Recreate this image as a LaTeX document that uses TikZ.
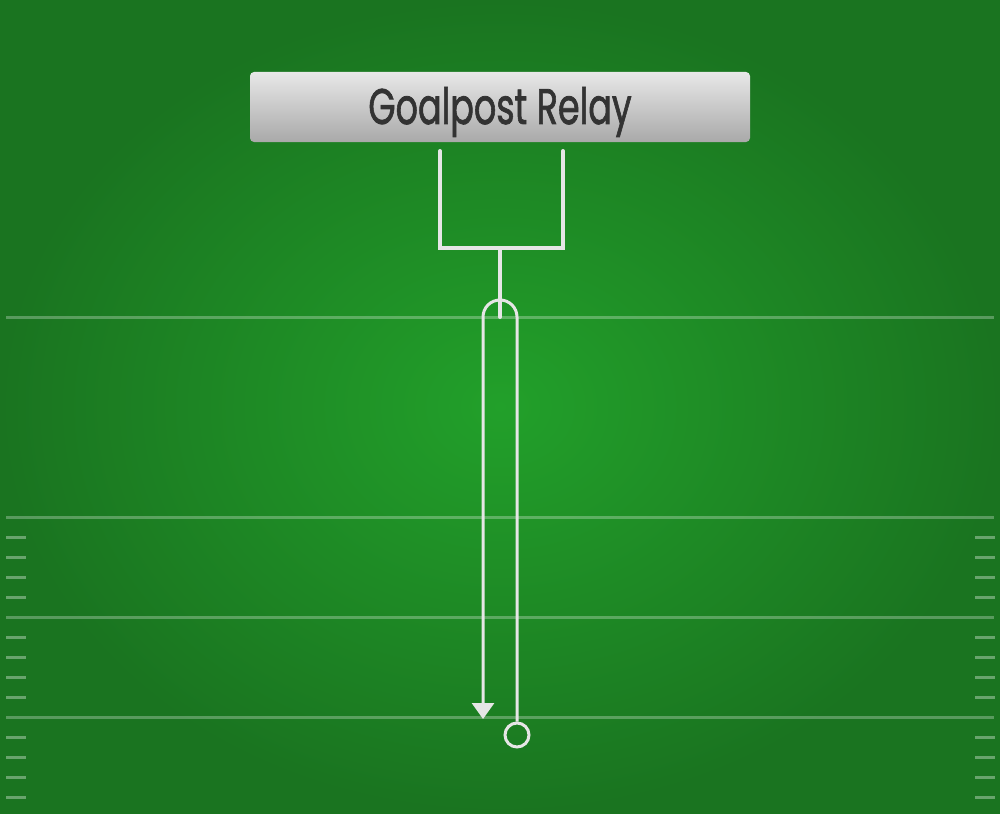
\documentclass[tikz,border=0pt]{standalone}
\usepackage{fontspec}
\setmainfont{Poppins}
\newfontfamily\titlefont[UprightFeatures={FakeBold=1.6}]{Poppins}
\usetikzlibrary{arrows.meta}
\definecolor{fieldmid}{HTML}{22A02A}
\definecolor{fieldedge}{HTML}{1A7420}
\definecolor{boxtop}{HTML}{E8E8E8}
\definecolor{boxbottom}{HTML}{A9A9A9}
\definecolor{titleink}{HTML}{333333}
\definecolor{chalk}{HTML}{E6E6E6}
\tikzset{
	yardline/.style={white, opacity=0.28, line width=1.5pt},
	hashmark/.style={white, opacity=0.35, line width=1.5pt},
	post/.style={chalk, line width=2pt, line cap=round},
	route/.style={chalk, line width=1.5pt},
	titlebox/.style={rounded corners=2pt, top color=boxtop, bottom color=boxbottom,
		minimum width=250pt, minimum height=35pt, inner sep=0pt,
		text height=17pt, text depth=0pt,
		text=titleink, font=\titlefont\fontsize{25}{25}\selectfont},
}
\begin{document}
\begin{tikzpicture}[x=0.5pt, y=-0.5pt]
	\useasboundingbox (0,0) rectangle (1000,813);
	% Field background
	\shade[inner color=fieldmid, outer color=fieldedge] (0,0) rectangle (1000,813);
	% Yard lines
	\foreach \yy in {317,517,617,717}
		\draw[yardline] (6,\yy) -- (994,\yy);
	% Hash marks at the sides
	\foreach \yy in {537,557,577,597,637,657,677,697,737,757,777,797} {
		\draw[hashmark] (6,\yy) -- (26,\yy);
		\draw[hashmark] (975,\yy) -- (995,\yy);
	}
	% Title
	\node[titlebox] (title) at (500,107) {\scalebox{0.7}[1]{Goalpost Relay}};
	% Goalpost
	\coordinate (leftup) at (440,151);
	\coordinate (rightup) at (563,151);
	\coordinate (postbase) at (500,248);
	\draw[post] (leftup) -- (leftup |- postbase) -- (rightup |- postbase) -- (rightup);
	\draw[post] (postbase) -- (500,317);
	% Route
	\node[circle, draw=chalk, line width=1.5pt, minimum size=12pt, inner sep=0pt] (start) at (517,735) {};
	\coordinate (finish) at (483,719);
	\draw[route, -{Triangle[length=8pt, width=11pt]}] (start.north) -- (517,317)
		arc[start angle=0, end angle=-180, radius=17] -- (finish);
\end{tikzpicture}
\end{document}
